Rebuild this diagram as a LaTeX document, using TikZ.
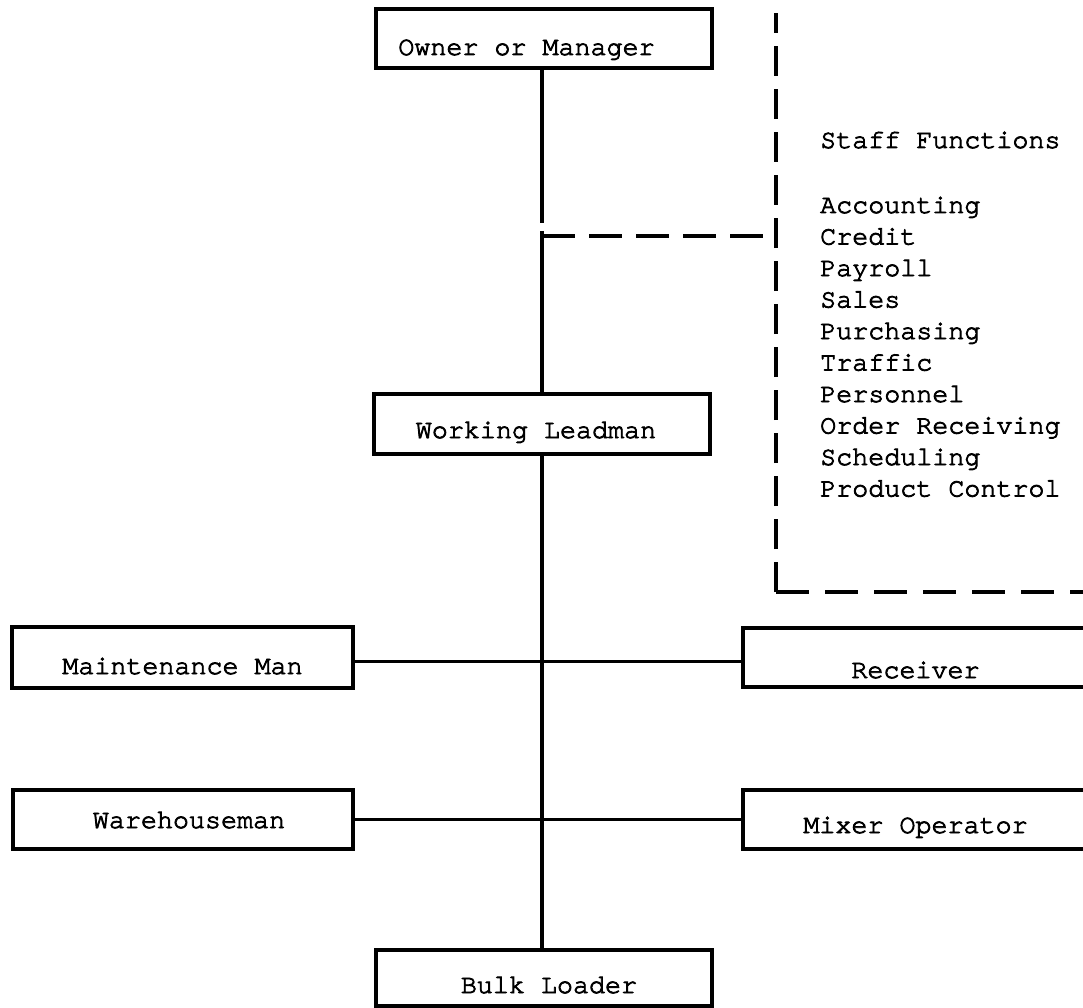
\documentclass[tikz,border=0pt]{standalone}
\usepackage{fontspec}
\newfontfamily\tw{TeX Gyre Cursor}[FakeBold=3, Ligatures={NoCommon}]
\tikzset{
  box/.style={draw, line width=3.3pt, inner xsep=0pt, inner ysep=0pt, text depth=0pt,
    font=\tw\fontsize{26.7}{31.5}\selectfont},
  conn/.style={line width=3.4pt},
  dashline/.style={line width=3.4pt, dash pattern=on 30pt off 13pt},
  lbl/.style={anchor=base west, inner sep=0pt, font=\tw\fontsize{26.7}{31.5}\selectfont}
}
\begin{document}
\begin{tikzpicture}[x=1pt,y=-1pt]
\useasboundingbox (0,0) rectangle (1083,1008);
\clip (0,0) rectangle (1083,1008);
% boxes
\node[box, minimum width=336pt, minimum height=59pt, text height=33pt] (owner) at (544,38.5) {\hspace*{-35pt}Owner or Manager};
\node[box, minimum width=336pt, minimum height=60pt, text height=28pt] (wl) at (542,424) {\hspace*{-12pt}Working Leadman};
\node[box, minimum width=341pt, minimum height=61pt, text height=33pt] (maint) at (182.5,657.5) {Maintenance Man};
\node[box, minimum width=345pt, minimum height=59pt, text height=41pt] (recv) at (915.5,657.5) {Receiver};
\node[box, minimum width=340pt, minimum height=59pt, text height=17pt] (wareh) at (183,819.5) {\hspace*{12pt}Warehouseman};
\node[box, minimum width=345pt, minimum height=59pt, text height=27pt] (mixer) at (915.5,819.5) {Mixer Operator};
\node[box, minimum width=336pt, minimum height=56pt, text height=30pt] (bulk) at (544,978) {\hspace*{10pt}Bulk Loader};
% coordinates
\coordinate (brk1) at (542,223);
\coordinate (brk2) at (542,231);
\coordinate (dj) at (542,236);
\coordinate (sTop) at (776,13);
\coordinate (sCorner) at (776,592);
\coordinate (sEnd) at (1090,592);
% solid connectors
\draw[conn] (owner.south -| brk1) -- (brk1);
\draw[conn] (brk2) -- (brk2 |- wl.north);
\draw[conn] (wl.south) -- (wl.south |- bulk.north);
\draw[conn] ([yshift=-4pt]maint.east) -- ([yshift=-4pt]recv.west);
\draw[conn] (wareh.east) -- (mixer.west);
% dashed staff lines
\draw[dashline, dash pattern=on 33pt off 14pt] (dj) -- (dj -| sCorner);
\draw[dashline] (sCorner) -- (sTop);
\draw[dashline, dash pattern=on 33pt off 16pt] (sCorner) -- (sEnd);
% staff functions
\node[lbl] (sfh) at (820,148) {Staff Functions};
\foreach \t [count=\i] in {Accounting,Credit,Payroll,Sales,Purchasing,Traffic,Personnel,Order Receiving,Scheduling,Product Control}
  \node[lbl] (sf\i) at (820,{213+31.5*(\i-1)}) {\t};
\end{tikzpicture}
\end{document}
